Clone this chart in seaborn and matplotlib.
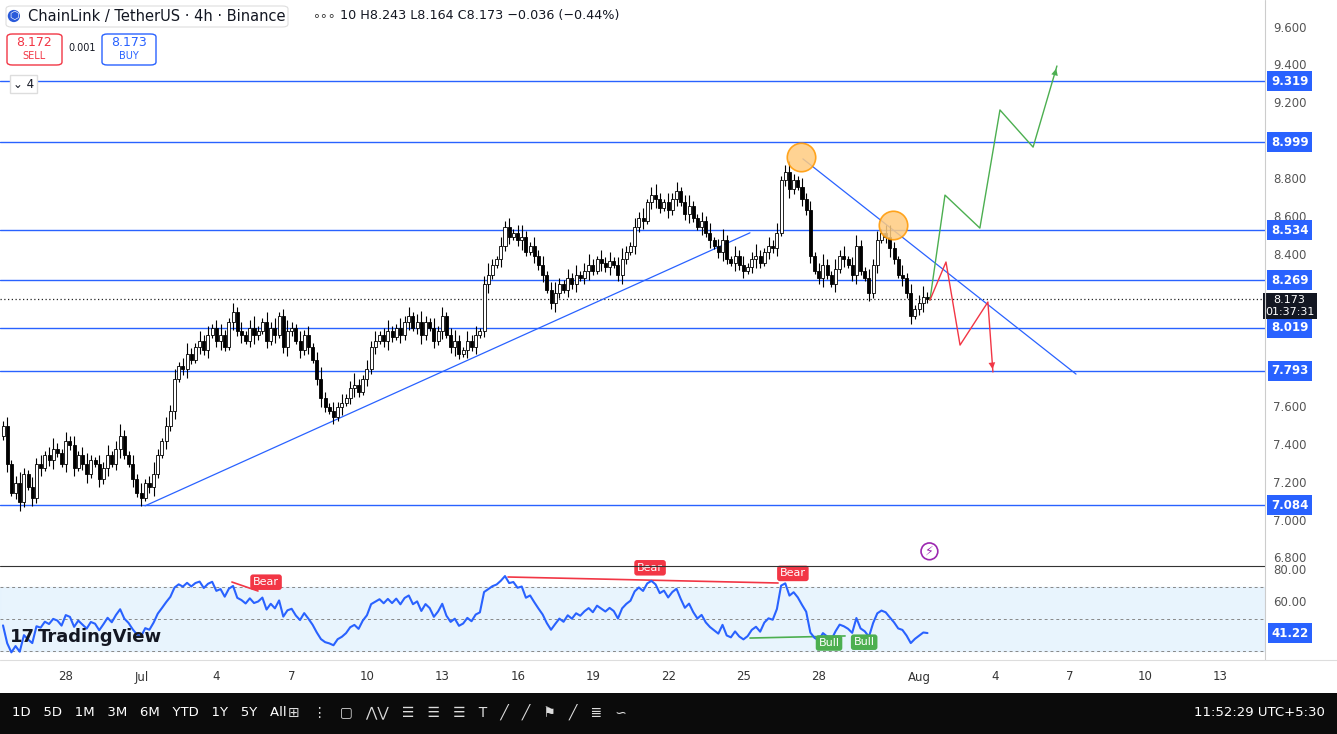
import numpy as np
import pandas as pd
import matplotlib
matplotlib.use("Agg")
import matplotlib.pyplot as plt
import seaborn as sns
from matplotlib.patches import Rectangle, FancyBboxPatch

sns.set_theme(style="white")
plt.rcParams['font.family'] = ['DejaVu Sans', 'Noto Sans CJK SC']

# ---------------- data ----------------
closes = [7.50,7.30,7.15,7.20,7.10,7.25,7.18,7.12,7.30,7.28,
          7.35,7.32,7.38,7.36,7.30,7.42,7.40,7.28,7.35,7.30,
          7.25,7.32,7.30,7.22,7.28,7.35,7.30,7.38,7.45,7.35,
          7.30,7.22,7.15,7.12,7.20,7.18,7.25,7.35,7.42,7.50,
          7.58,7.75,7.82,7.80,7.88,7.85,7.92,7.95,7.90,7.98,
          8.02,7.95,7.98,7.92,8.05,8.10,8.00,7.98,7.95,8.02,
          7.98,8.00,8.05,7.95,8.02,7.98,8.08,7.92,8.00,8.02,
          7.95,7.90,7.98,7.92,7.85,7.75,7.65,7.60,7.58,7.55,
          7.60,7.62,7.65,7.70,7.72,7.68,7.75,7.80,7.92,7.95,
          7.98,7.95,8.00,7.97,8.02,7.98,8.05,8.08,8.02,8.05,
          7.98,8.05,8.02,7.95,8.00,8.08,7.98,7.92,7.95,7.88,
          7.90,7.95,7.92,7.98,8.00,8.25,8.30,8.35,8.38,8.45,
          8.55,8.50,8.52,8.48,8.50,8.42,8.45,8.40,8.35,8.30,
          8.22,8.15,8.20,8.25,8.22,8.28,8.25,8.30,8.28,8.32,
          8.35,8.32,8.38,8.36,8.34,8.37,8.35,8.30,8.38,8.42,
          8.45,8.55,8.60,8.58,8.68,8.72,8.70,8.65,8.68,8.64,
          8.70,8.74,8.68,8.62,8.66,8.60,8.55,8.58,8.52,8.48,
          8.45,8.42,8.48,8.38,8.36,8.40,8.35,8.32,8.34,8.38,
          8.40,8.36,8.42,8.45,8.44,8.52,8.80,8.84,8.75,8.80,
          8.76,8.70,8.64,8.40,8.32,8.28,8.35,8.30,8.25,8.33,
          8.40,8.38,8.35,8.30,8.45,8.32,8.28,8.20,8.35,8.48,
          8.52,8.50,8.44,8.38,8.30,8.28,8.20,8.08,8.12,8.15,
          8.18,8.173]
first_open = 7.45
wick_pattern = [0.03,0.05,0.02,0.04,0.06,0.03,0.02,0.05]
start_day = -2.51          # days relative to Jun 28
candle_days = 1/6
rsi_seed_gain, rsi_seed_loss = 0.020, 0.028

levels = [9.319, 8.999, 8.534, 8.269, 8.019, 7.793, 7.084]
last_price = 8.173
price_ticks = [9.6, 9.4, 9.2, 8.8, 8.6, 8.4, 7.6, 7.4, 7.2, 7.0, 6.8]

up_trend = ([3.15, 27.25], [7.08, 8.52])
down_trend = ([29.36, 40.24], [8.91, 7.775])
circles_d = [29.28, 32.95]
circles_p = [8.92, 8.56]
green_d = [34.42, 35.02, 36.41, 37.21, 38.53, 39.48]
green_p = [8.165, 8.719, 8.545, 9.168, 8.972, 9.40]
red_d = [34.42, 35.06, 35.62, 36.73, 36.93]
red_p = [8.165, 8.366, 7.928, 8.155, 7.786]

bear_d = [7.97, 23.27, 28.96]
bear_r = [73.0, 82.0, 78.5]
bull_d = [30.4, 31.8]
bull_r = [35.0, 35.5]
date_labels = ["28", "Jul", "4", "7", "10", "13", "16", "19", "22", "25", "28", "Aug", "4", "7", "10", "13"]
date_days = [0, 3, 6, 9, 12, 15, 18, 21, 24, 27, 30, 34, 37, 40, 43, 46]

# ---------------- derived ----------------
n = len(closes)
days = start_day + np.arange(n) * candle_days
opens = np.r_[first_open, closes[:-1]]
cl = np.array(closes)
wk = np.array([wick_pattern[i % len(wick_pattern)] for i in range(n)])
highs = np.maximum(opens, cl) + wk
lows = np.minimum(opens, cl) - wk * 0.8
df = pd.DataFrame(dict(day=days, open=opens, close=cl, high=highs, low=lows))

# RSI 14 (Wilder), seeded
delta = np.diff(cl, prepend=first_open)
ag, al = rsi_seed_gain, rsi_seed_loss
rsi = []
for dlt in delta:
    ag = (ag * 13 + max(dlt, 0)) / 14
    al = (al * 13 + max(-dlt, 0)) / 14
    rsi.append(100 - 100 / (1 + ag / al))
df["rsi"] = rsi

W, H = 1337, 734
fig = plt.figure(figsize=(W/100, H/100), dpi=100)
fig.patch.set_facecolor("white")
def fx(px): return px / W
def fy(py): return 1 - py / H

ax = fig.add_axes([0, fy(565), fx(1265), 565/H])
ax.set_xlim(-2.63, 47.77)
ax.set_ylim(6.768, 9.748)
for s in ax.spines.values():
    s.set_visible(False)
ax.set_xticks([]); ax.set_yticks([])

for lv in levels:
    ax.axhline(lv, color="#2962ff", lw=1.0, zorder=1)
ax.axhline(last_price, color="#222222", lw=0.9, ls=(0, (1, 2)), zorder=1)

for _, r in df.iterrows():
    up = r.close >= r.open
    ax.vlines(r.day, r.low, r.high, color="black", lw=0.8, zorder=3)
    b0, b1 = min(r.open, r.close), max(r.open, r.close)
    ax.add_patch(Rectangle((r.day - 0.06, b0), 0.12, max(b1 - b0, 0.004),
                           facecolor="white" if up else "black", edgecolor="black",
                           lw=0.6, zorder=4))

ax.plot(*up_trend, color="#2962ff", lw=0.9, zorder=2)
ax.plot(*down_trend, color="#2962ff", lw=0.9, zorder=2)
ax.scatter(circles_d, circles_p, s=420, facecolor="#ffcc80", edgecolor="#ff9800",
           lw=1.2, alpha=0.85, zorder=5)
ax.plot(green_d, green_p, color="#4caf50", lw=1.0, zorder=5)
ax.annotate("", xy=(green_d[-1], green_p[-1]), xytext=(green_d[-2] + 0.7, green_p[-2] + 0.3),
            arrowprops=dict(arrowstyle="-|>,head_width=0.2", color="#4caf50", lw=0.01))
ax.plot(red_d, red_p, color="#f23645", lw=1.0, zorder=5)
ax.annotate("", xy=(red_d[-1], red_p[-1]), xytext=(red_d[-2] + 0.1, red_p[-2] - 0.25),
            arrowprops=dict(arrowstyle="-|>,head_width=0.2", color="#f23645", lw=0.01))
ax.text(34.4, 6.84, "⚡", color="#9c27b0", fontsize=9, ha="center", va="center",
        bbox=dict(boxstyle="circle,pad=0.15", fc="white", ec="#9c27b0", lw=1.2))

yt = ax.get_yaxis_transform()
for t in price_ticks:
    ax.text(1.0195, t, f"{t:.3f}", transform=yt, ha="center", va="center", fontsize=8.5, color="#555555")
for lv in levels:
    ax.text(1.0195, lv, f"{lv:.3f}", transform=yt, ha="center", va="center", fontsize=8.5,
            color="white", fontweight="bold",
            bbox=dict(boxstyle="square,pad=0.3", fc="#2962ff", ec="none"))
ax.text(1.0195, last_price - 0.04, f"{last_price:.3f}\n01:37:31", transform=yt, ha="center", va="center",
        fontsize=8, color="white", linespacing=1.2,
        bbox=dict(boxstyle="square,pad=0.2", fc="#131722", ec="none"), zorder=6)

# RSI panel
rx = fig.add_axes([0, fy(655), fx(1265), 88/H])
rx.set_xlim(-2.63, 47.77); rx.set_ylim(27.5, 82.5)
rx.axhspan(30, 70, color="#e3f2fd", alpha=0.8, zorder=0)
for lv in (70, 50, 30):
    rx.axhline(lv, color="#888888", lw=0.7, ls=(0, (3, 3)), zorder=1)
sns.lineplot(data=df, x="day", y="rsi", ax=rx, color="#2962ff", lw=1.5, zorder=3)
rx.plot([6.61, 7.65], [73.1, 67.5], color="#f23645", lw=1.2)
rx.plot([17.61, 28.37], [76.25, 72.5], color="#f23645", lw=1.2)
rx.plot([27.25, 31.04], [38.1, 39.4], color="#4caf50", lw=1.2)
for d, r in zip(bear_d, bear_r):
    rx.text(d, r, "Bear", color="white", fontsize=8, ha="center", va="center", clip_on=False,
            bbox=dict(boxstyle="round,pad=0.25", fc="#f23645", ec="none"), zorder=6)
for d, r in zip(bull_d, bull_r):
    rx.text(d, r, "Bull", color="white", fontsize=8, ha="center", va="center", clip_on=False,
            bbox=dict(boxstyle="round,pad=0.25", fc="#4caf50", ec="none"), zorder=6)
rx.set_xlabel(""); rx.set_ylabel(""); rx.set_xticks([]); rx.set_yticks([])
for s in rx.spines.values():
    s.set_visible(False)
rt = rx.get_yaxis_transform()
for t in (80, 60):
    rx.text(1.0195, t, f"{t:.2f}", transform=rt, ha="center", va="center", fontsize=8.5, color="#555555")
rx.text(1.0195, df.rsi.iloc[-1], f"{df.rsi.iloc[-1]:.2f}", transform=rt, ha="center", va="center",
        fontsize=8.5, color="white", fontweight="bold",
        bbox=dict(boxstyle="square,pad=0.3", fc="#2962ff", ec="none"))
rx.text(0.008, 0.15, "17", transform=rx.transAxes, fontsize=13, fontweight="heavy", color="#131722")
rx.text(0.03, 0.15, "TradingView", transform=rx.transAxes, fontsize=13, fontweight="bold", color="#131722")

fig.add_artist(plt.Line2D([0, fx(1265)], [fy(566), fy(566)], color="#333333", lw=0.8))
fig.add_artist(plt.Line2D([fx(1265), fx(1265)], [fy(660), 1], color="#cccccc", lw=0.8))
fig.add_artist(plt.Line2D([0, 1], [fy(660), fy(660)], color="#dddddd", lw=0.8))

for lab, d in zip(date_labels, date_days):
    x = ax.transData.transform((d, 7))[0]
    fig.text(x / W, fy(677), lab, ha="center", va="center", fontsize=8.5, color="#333333")

# header
fig.add_artist(FancyBboxPatch((fx(6), fy(27)), fx(282), 21/H, boxstyle="round,pad=0,rounding_size=0.004",
                              fc="white", ec="#dddddd", lw=0.8))
fig.text(fx(9), fy(16), "⬡", color="white", fontsize=8, va="center",
         bbox=dict(boxstyle="circle,pad=0.1", fc="#2a5ada", ec="none"))
fig.text(fx(28), fy(16), "ChainLink / TetherUS · 4h · Binance", fontsize=10.5, va="center", color="#131722")
fig.text(fx(312), fy(16), "∘∘∘", fontsize=9, va="center", color="#333333")
fig.text(fx(340), fy(16), "10 H8.243 L8.164 C8.173 −0.036 (−0.44%)", fontsize=9.2, va="center", color="#131722")
fig.add_artist(FancyBboxPatch((fx(7), fy(65)), fx(55), 31/H, boxstyle="round,pad=0,rounding_size=0.004",
                              fc="white", ec="#f23645", lw=1))
fig.text(fx(34), fy(42), "8.172", color="#f23645", fontsize=9, ha="center", va="center")
fig.text(fx(34), fy(56), "SELL", color="#f23645", fontsize=7, ha="center", va="center")
fig.text(fx(82), fy(48), "0.001", color="#131722", fontsize=7, ha="center", va="center")
fig.add_artist(FancyBboxPatch((fx(102), fy(65)), fx(54), 31/H, boxstyle="round,pad=0,rounding_size=0.004",
                              fc="white", ec="#2962ff", lw=1))
fig.text(fx(129), fy(42), "8.173", color="#2962ff", fontsize=9, ha="center", va="center")
fig.text(fx(129), fy(56), "BUY", color="#2962ff", fontsize=7, ha="center", va="center")
fig.text(fx(13), fy(84), "⌄ 4", color="#131722", fontsize=8.5, va="center",
         bbox=dict(boxstyle="square,pad=0.25", fc="white", ec="#dddddd"))

# bottom toolbar
fig.add_artist(Rectangle((0, 0), 1, 41/H, transform=fig.transFigure, fc="#0b0b0b", ec="none"))
fig.text(fx(12), fy(712), "1D   5D   1M   3M   6M   YTD   1Y   5Y   All", color="white", fontsize=9.5, va="center")
fig.text(fx(1325), fy(712), "11:52:29 UTC+5:30", color="white", fontsize=9.5, va="center", ha="right")
fig.text(fx(288), fy(712), "⊞   ⋮   ▢   ⋀⋁   ☰   ☰   ☰   T   ╱   ╱   ⚑   ╱   ≣   ∽", color="#dddddd",
         fontsize=10, va="center")

fig.savefig("out.png", dpi=100)
